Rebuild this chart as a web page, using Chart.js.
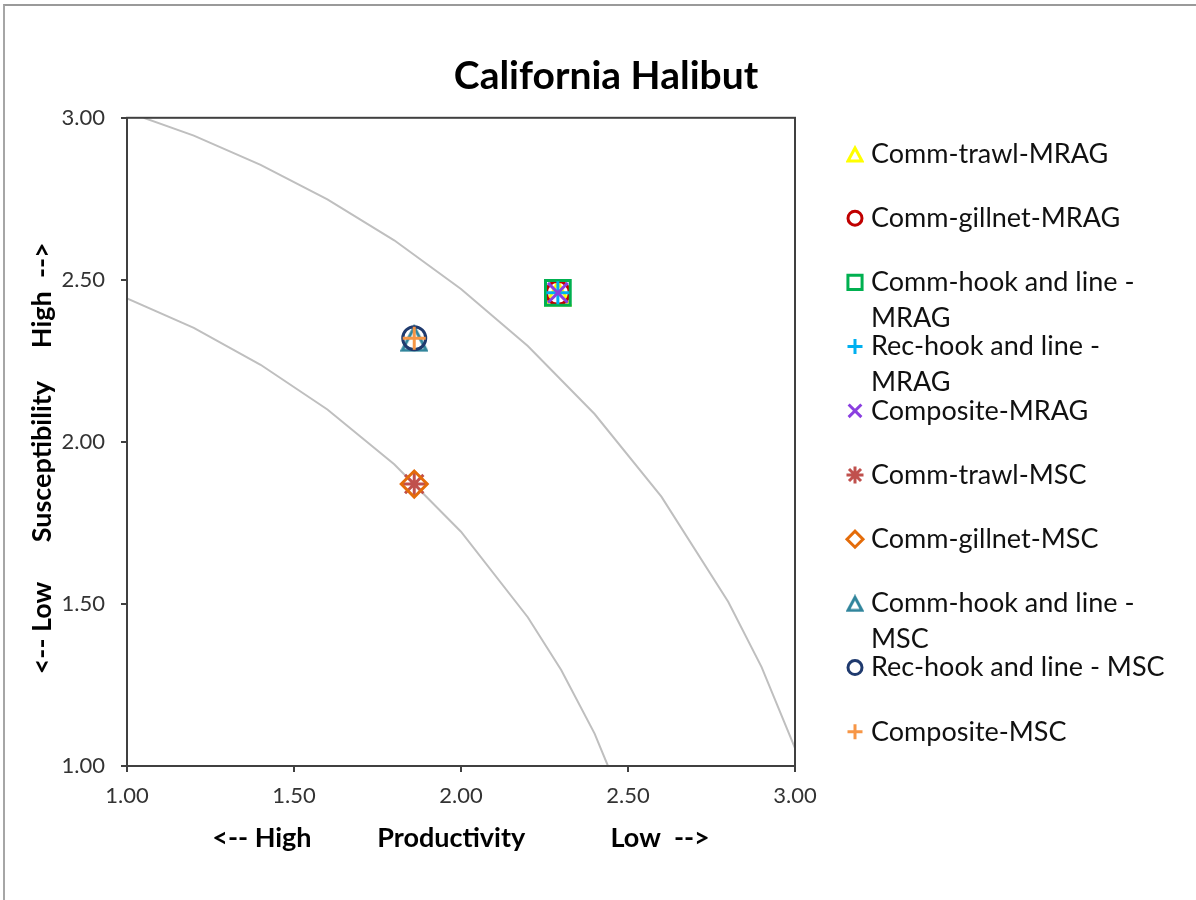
<!DOCTYPE html>
<html lang="en">
<head>
  <meta charset="UTF-8">
  <title>California Halibut</title>
  <script src="https://cdn.jsdelivr.net/npm/chart.js@4.4.0/dist/chart.umd.min.js"></script>
  <style>
    html, body { margin: 0; background: #fff; overflow: hidden; }
    .frame {
      position: absolute;
      left: 3px;
      top: 4px;
      width: 1300px;
      height: 1000px;
      border-top: 2px solid #9a9a9a;
      border-left: 2px solid #a6a6a6;
    }
    canvas { position: absolute; left: 0; top: 0; }
  </style>
</head>
<body>
  <div class="frame"></div>
  <canvas id="psa" width="1196" height="900"></canvas>

  <script>
    // series shown in the legend (label lines as they wrap in the original)
    const seriesNames = [
      ['Comm-trawl-MRAG'],
      ['Comm-gillnet-MRAG'],
      ['Comm-hook and line -', 'MRAG'],
      ['Rec-hook and line -', 'MRAG'],
      ['Composite-MRAG'],
      ['Comm-trawl-MSC'],
      ['Comm-gillnet-MSC'],
      ['Comm-hook and line -', 'MSC'],
      ['Rec-hook and line - MSC'],
      ['Composite-MSC']
    ];
    const productivity   = [2.29, 2.29, 2.29, 2.29, 2.29, 1.86, 1.86, 1.86, 1.86, 1.86];
    const susceptibility = [2.46, 2.46, 2.46, 2.46, 2.46, 1.87, 1.87, 2.32, 2.32, 2.32];

    // risk contour lines (grey arcs)
    const outerCurveX = [1.05, 1.2, 1.4, 1.6, 1.8, 2.0, 2.2, 2.4, 2.6, 2.8, 2.9, 3.0];
    const outerCurveY = [3.00, 2.945, 2.855, 2.748, 2.622, 2.472, 2.296, 2.086, 1.831, 1.507, 1.305, 1.055];
    const innerCurveX = [1.0, 1.2, 1.4, 1.6, 1.8, 2.0, 2.2, 2.3, 2.4, 2.44];
    const innerCurveY = [2.443, 2.352, 2.238, 2.100, 1.931, 1.723, 1.459, 1.296, 1.100, 1.00];

    const xTicks = [1.00, 1.50, 2.00, 2.50, 3.00];
    const yTicks = [1.00, 1.50, 2.00, 2.50, 3.00];

    const FONT = "Lato, 'Open Sans', sans-serif";

    // excel-like outline triangle (base at the bottom of its box)
    function triangleMark(color, size, lw) {
      const c = document.createElement('canvas');
      c.width = size; c.height = size;
      const g = c.getContext('2d');
      g.strokeStyle = color;
      g.lineWidth = lw;
      g.lineJoin = 'miter';
      g.beginPath();
      g.moveTo(size / 2, lw);
      g.lineTo(size - lw / 2 - 0.5, size - lw / 2 - 0.5);
      g.lineTo(lw / 2 + 0.5, size - lw / 2 - 0.5);
      g.closePath();
      g.stroke();
      return c;
    }

    // marker looks, one per series
    const markers = [
      { style: triangleMark('#FFFF00', 28, 3), legend: triangleMark('#FFFF00', 18, 3), color: '#FFFF00', r: 14, lr: 9 },
      { style: 'circle',   color: '#C00000', r: 11.5, lr: 7 },
      { style: 'rect',     color: '#00B050', r: 17.5, lr: 10 },
      { style: 'cross',    color: '#00B0F0', r: 11.5, lr: 7.5 },
      { style: 'crossRot', color: '#8B3FE0', r: 14,  lr: 9 },
      { style: 'star',     color: '#C0504D', r: 13,  lr: 8.5 },
      { style: 'rectRot',  color: '#E46C0A', r: 13,  lr: 8 },
      { style: triangleMark('#31859C', 28, 3), legend: triangleMark('#31859C', 18, 3), color: '#31859C', r: 14, lr: 9 },
      { style: 'circle',   color: '#1F3A6E', r: 11.5, lr: 7 },
      { style: 'cross',    color: '#F79646', r: 11.5, lr: 7.5 }
    ];

    const datasets = seriesNames.map((name, i) => ({
      label: name.join(' '),
      data: [{ x: productivity[i], y: susceptibility[i] }],
      showLine: false,
      pointStyle: markers[i].style,
      pointRadius: markers[i].r,
      pointHoverRadius: markers[i].r,
      pointBorderWidth: 3,
      pointBorderColor: markers[i].color,
      pointBackgroundColor: 'rgba(0,0,0,0)',
      order: seriesNames.length - i
    }));

    [[outerCurveX, outerCurveY], [innerCurveX, innerCurveY]].forEach(([xs, ys]) => {
      datasets.push({
        label: '',
        data: xs.map((x, k) => ({ x, y: ys[k] })),
        showLine: true,
        borderColor: '#BFBFBF',
        borderWidth: 2,
        pointRadius: 0,
        tension: 0,
        order: 100
      });
    });

    const frameAndLegend = {
      id: 'frameAndLegend',
      afterDatasetsDraw(chart) {
        const { ctx, chartArea: a } = chart;
        ctx.save();
        ctx.strokeStyle = '#404040';
        ctx.lineWidth = 2;
        ctx.strokeRect(a.left, a.top, a.right - a.left, a.bottom - a.top);
        ctx.restore();
      },
      afterDraw(chart) {
        const ctx = chart.ctx;
        ctx.save();
        seriesNames.forEach((lines, i) => {
          const y = 154 + i * 64.2;
          const m = markers[i];
          ctx.lineWidth = 3;
          ctx.strokeStyle = m.color;
          ctx.fillStyle = 'rgba(0,0,0,0)';
          Chart.helpers.drawPoint(ctx, { pointStyle: m.legend || m.style, radius: m.lr, borderWidth: 3, rotation: 0 }, 855, y);
          ctx.fillStyle = '#111';
          ctx.font = '27px ' + FONT;
          ctx.textBaseline = 'middle';
          ctx.textAlign = 'left';
          lines.forEach((t, k) => ctx.fillText(t, 871, y + k * 36));
        });
        ctx.restore();
      }
    };

    new Chart(document.getElementById('psa'), {
      type: 'scatter',
      data: { datasets },
      options: {
        responsive: false,
        animation: false,
        devicePixelRatio: 1,
        layout: { padding: { top: 53, right: 0, bottom: 0, left: 16 } },
        plugins: {
          legend: { display: false },
          tooltip: { enabled: false },
          title: {
            display: true,
            text: 'California Halibut',
            color: '#000',
            font: { family: FONT, size: 39, weight: 'bold', lineHeight: 1.2 },
            padding: { top: 0, bottom: 18 }
          }
        },
        scales: {
          x: {
            type: 'linear',
            min: 1, max: 3,
            afterBuildTicks: s => { s.ticks = xTicks.map(v => ({ value: v })); },
            afterFit: s => { s.height = 134; },
            ticks: {
              callback: v => Number(v).toFixed(2),
              color: '#333',
              padding: 11,
              font: { family: FONT, size: 22 }
            },
            grid: { drawOnChartArea: false, drawTicks: true, tickLength: 6, color: '#404040', lineWidth: 2 },
            border: { display: true, color: '#404040', width: 2 },
            title: {
              display: true,
              text: '<-- High          Productivity             Low  -->',
              color: '#000',
              font: { family: FONT, size: 27, weight: 'bold', lineHeight: 1.2 },
              padding: { top: 0, bottom: 46 }
            }
          },
          y: {
            type: 'linear',
            min: 1, max: 3,
            afterBuildTicks: s => { s.ticks = yTicks.map(v => ({ value: v })); },
            afterFit: s => { s.width = 111; },
            ticks: {
              callback: v => Number(v).toFixed(2),
              color: '#333',
              padding: 16,
              font: { family: FONT, size: 22 }
            },
            grid: { drawOnChartArea: false, drawTicks: true, tickLength: 6, color: '#404040', lineWidth: 2 },
            border: { display: true, color: '#404040', width: 2 },
            title: {
              display: true,
              text: '<-- Low      Susceptibility     High  -->     ',
              color: '#000',
              font: { family: FONT, size: 27, weight: 'bold', lineHeight: 1.2 },
              padding: { top: 10, bottom: 0 }
            }
          },
          // empty right-hand box that keeps the legend column free
          side: {
            type: 'linear',
            position: 'right',
            display: true,
            afterFit: s => { s.width = 401; },
            ticks: { display: false },
            grid: { display: false },
            border: { display: false }
          }
        }
      },
      plugins: [frameAndLegend]
    });
  </script>
</body>
</html>
